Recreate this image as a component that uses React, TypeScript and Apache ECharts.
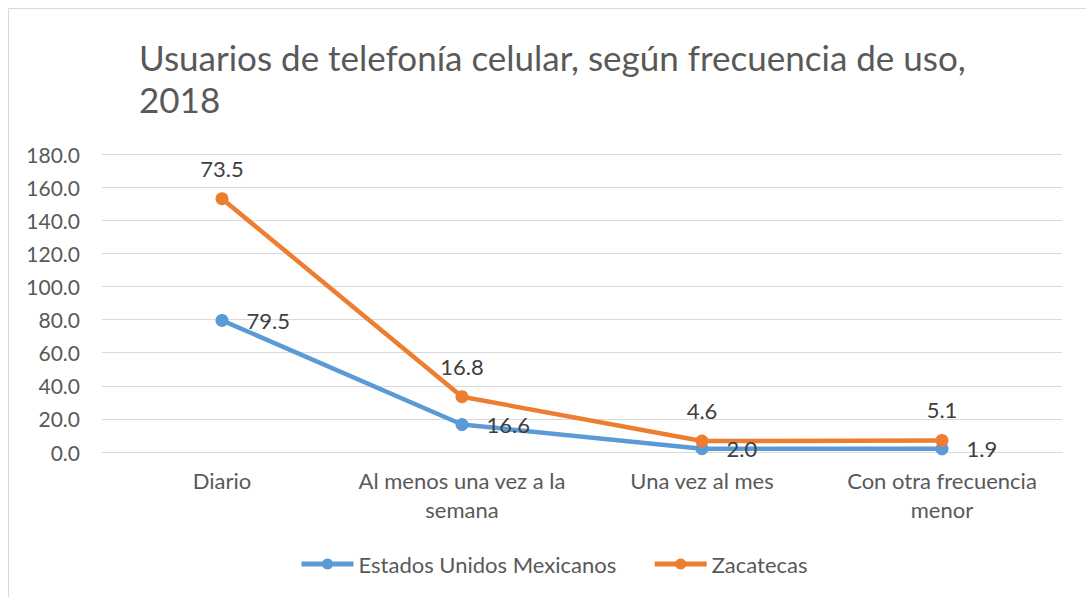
import React, { useEffect, useRef } from "react";
import * as echarts from "echarts";

const categories = [
  "Diario",
  "Al menos una vez a la\nsemana",
  "Una vez al mes",
  "Con otra frecuencia\nmenor",
];
const nacional = [79.5, 16.6, 2.0, 1.9];
const zacatecas = [73.5, 16.8, 4.6, 5.1];
const seriesNames = ["Estados Unidos Mexicanos", "Zacatecas"];
const titleText = "Usuarios de telefonía celular, según frecuencia de uso,\n2018";

const FONT = "Lato, 'Noto Sans', sans-serif";

export default function App() {
  const ref = useRef<HTMLDivElement>(null);
  useEffect(() => {
    if (!ref.current) return;
    const chart = echarts.init(ref.current, null, { renderer: "svg" });
    chart.setOption({
      animation: false,
      backgroundColor: "#ffffff",
      textStyle: { fontFamily: FONT },
      graphic: [
        {
          type: "rect",
          shape: { x: 8.5, y: 8.5, width: 1200, height: 1000 },
          style: { fill: "none", stroke: "#D9D9D9", lineWidth: 1 },
          silent: true,
        },
      ],
      title: {
        text: titleText,
        left: 134,
        top: 31,
        textStyle: {
          fontFamily: FONT,
          fontSize: 35,
          fontWeight: "normal",
          color: "#595959",
          lineHeight: 42,
        },
      },
      grid: { left: 102, right: 24, top: 154, bottom: 145, containLabel: false },
      legend: {
        bottom: 17,
        left: 294,
        itemWidth: 52,
        itemHeight: 14,
        itemGap: 36,
        lineStyle: { width: 5 },
        textStyle: { fontFamily: FONT, fontSize: 22, color: "#595959" },
        data: seriesNames,
      },
      xAxis: {
        type: "category",
        data: categories,
        boundaryGap: true,
        axisLine: { lineStyle: { color: "#D9D9D9", width: 1 } },
        axisTick: { show: false },
        axisLabel: {
          fontFamily: FONT,
          fontSize: 22,
          color: "#595959",
          lineHeight: 29,
          margin: 14,
          interval: 0,
        },
      },
      yAxis: {
        type: "value",
        min: 0,
        max: 180,
        interval: 20,
        axisLine: { show: false },
        axisTick: { show: false },
        splitLine: { lineStyle: { color: "#D9D9D9", width: 1 } },
        axisLabel: {
          fontFamily: FONT,
          fontSize: 21,
          color: "#595959",
          margin: 22,
          formatter: (v: number) => v.toFixed(1),
        },
      },
      series: [
        {
          name: seriesNames[0],
          type: "line",
          stack: "total",
          data: nacional,
          symbol: "circle",
          symbolSize: 13,
          color: "#5B9BD5",
          lineStyle: { width: 4.5, color: "#5B9BD5" },
          itemStyle: { color: "#5B9BD5" },
          label: {
            show: true,
            position: "right",
            distance: 18,
            fontFamily: FONT,
            fontSize: 22,
            color: "#404040",
            formatter: (p: any) => Number(p.value).toFixed(1),
          },
        },
        {
          name: seriesNames[1],
          type: "line",
          stack: "total",
          data: zacatecas,
          symbol: "circle",
          symbolSize: 13,
          color: "#ED7D31",
          lineStyle: { width: 4.5, color: "#ED7D31" },
          itemStyle: { color: "#ED7D31" },
          label: {
            show: true,
            position: "top",
            distance: 13,
            fontFamily: FONT,
            fontSize: 22,
            color: "#404040",
            formatter: (p: any) => Number(p.value).toFixed(1),
          },
        },
      ],
    });
    return () => chart.dispose();
  }, []);
  return (
    <div
      ref={ref}
      style={{ position: "fixed", left: 0, top: 0, width: 1086, height: 597 }}
    />
  );
}
